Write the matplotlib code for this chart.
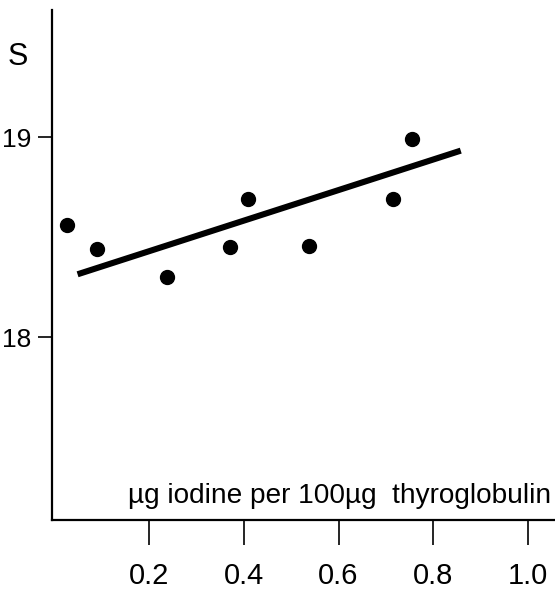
import matplotlib
matplotlib.use("Agg")
import matplotlib.pyplot as plt
import numpy as np

# Data
iodine = [0.026, 0.089, 0.238, 0.371, 0.409, 0.537, 0.715, 0.756]
s_value = [18.56, 18.44, 18.30, 18.45, 18.69, 18.455, 18.69, 18.99]
fit_x = [0.049, 0.858]
fit_y = [18.314, 18.933]
x_ticks = [0.2, 0.4, 0.6, 0.8, 1.0]
x_tick_labels = ["0.2", "0.4", "0.6", "0.8", "1.0"]
y_ticks = [18, 19]
y_tick_labels = ["18", "19"]

FONT = ["Liberation Sans", "DejaVu Sans"]
plt.rcParams['font.family'] = FONT

W, H = 555, 592
fig = plt.figure(figsize=(W / 100, H / 100), dpi=100)
left_px, right_px, top_px, bottom_px = 52, 555, 10, 520
ax = fig.add_axes([left_px / W, (H - bottom_px) / H,
                   (right_px - left_px) / W, (bottom_px - top_px) / H])

ax.plot(fit_x, fit_y, color="black", lw=4.4, solid_capstyle="butt")
ax.plot(iodine, s_value, "o", color="black", ms=10)

ax.set_xlim(-0.005, 1.057)
ax.set_ylim(17.084, 19.637)

for side in ("top", "right"):
    ax.spines[side].set_visible(False)
for side in ("left", "bottom"):
    ax.spines[side].set_linewidth(1.6)

ax.set_xticks(x_ticks)
ax.set_xticklabels(x_tick_labels, fontsize=21)
ax.set_yticks(y_ticks)
ax.set_yticklabels(y_tick_labels, fontsize=19)
ax.tick_params(axis="x", length=18, width=1.2, pad=12)
ax.tick_params(axis="y", length=10, width=1.2, pad=5)

fig.text(18 / W, 1 - 57 / H, "S", fontsize=22, ha="center", va="center")
fig.text(128 / W, 1 - 496 / H, "µg iodine per 100µg  thyroglobulin",
         fontsize=20.2, ha="left", va="center")

fig.savefig("out.png", dpi=100)
